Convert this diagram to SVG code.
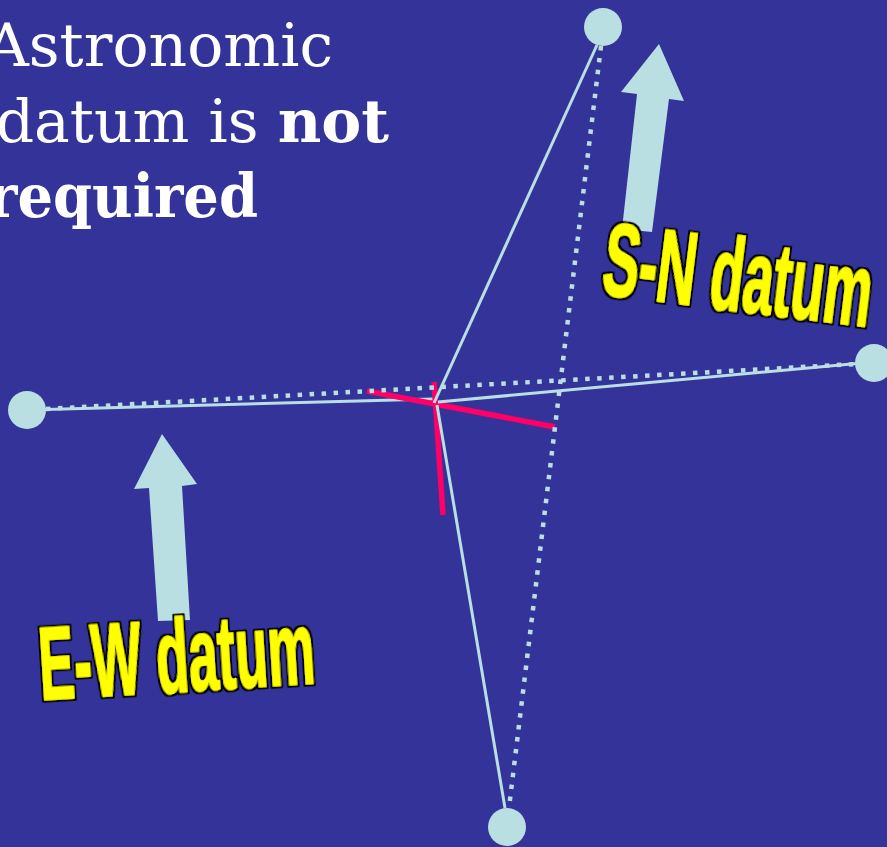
<svg xmlns="http://www.w3.org/2000/svg" width="887" height="847" viewBox="0 0 887 847">
<defs>
<filter id="outline" x="-10%" y="-20%" width="120%" height="140%">
<feMorphology in="SourceAlpha" operator="dilate" radius="2" result="thick"/>
<feFlood flood-color="#000000" result="black"/>
<feComposite in="black" in2="thick" operator="in" result="border"/>
<feMerge><feMergeNode in="border"/><feMergeNode in="SourceGraphic"/></feMerge>
</filter>
</defs>
<style>
.solid{stroke:#B9DFE3;stroke-width:3;fill:none;stroke-linecap:butt}
.dot{stroke:#B9DFE3;stroke-width:4.5;fill:none;stroke-dasharray:4.5 7.5}
.red{stroke:#FF0066;stroke-width:5.5;fill:none}
.pt{fill:#B9DFE3}
.arrow{fill:#B9DFE3}
.serif{font-family:"DejaVu Serif",serif;font-size:60px;fill:#FFFFFF}
.lab{font-family:"Liberation Sans",Arial,sans-serif;font-weight:bold;font-size:104px;fill:#FFFF00;stroke:#FFFF00;stroke-width:1.5;stroke-linejoin:round;filter:url(#outline)}
</style>
<rect x="0" y="0" width="887" height="847" fill="#333399"/>
<g id="title">
<text class="serif" x="333" y="66" text-anchor="end">Astronomic</text>
<text class="serif" x="389" y="142" text-anchor="end">datum is <tspan font-weight="bold">not</tspan></text>
<text class="serif" x="-12" y="217" font-weight="bold" textLength="270" lengthAdjust="spacingAndGlyphs">required</text>
</g>
<g id="connectors">
<line class="solid" x1="27" y1="410" x2="433" y2="399"/>
<line class="red" x1="367" y1="391" x2="555" y2="427"/>
<line class="red" x1="434" y1="382" x2="443" y2="515"/>
<line class="solid" x1="597" y1="45" x2="434" y2="403"/>
<line class="solid" x1="438" y1="402" x2="873" y2="362"/>
<line class="solid" x1="437" y1="405" x2="505" y2="808"/>
<line class="dot" x1="46" y1="409" x2="856" y2="364"/>
<line class="dot" x1="601" y1="46" x2="509" y2="808"/>
</g>
<g id="node-top"><circle class="pt" cx="603" cy="27" r="19"/></g>
<g id="node-left"><circle class="pt" cx="27" cy="410" r="19"/></g>
<g id="node-right"><circle class="pt" cx="874" cy="363" r="19"/></g>
<g id="node-bottom"><circle class="pt" cx="507" cy="827" r="19"/></g>
<g id="arrow-sn">
<polygon class="arrow" points="659,44 684,101 669,99 652,232 622,229 637,94 621,92"/>
</g>
<g id="arrow-ew">
<polygon class="arrow" points="162,434 197,484 182,486 190,620 158,621 149,488 134,489"/>
</g>
<g id="label-sn">
<text class="lab" x="600" y="294" transform="rotate(7 600 294)" textLength="270" lengthAdjust="spacingAndGlyphs">S-N datum</text>
</g>
<g id="label-ew">
<text class="lab" x="41" y="700" transform="rotate(-3.5 41 700)" textLength="276" lengthAdjust="spacingAndGlyphs">E-W datum</text>
</g>
</svg>
